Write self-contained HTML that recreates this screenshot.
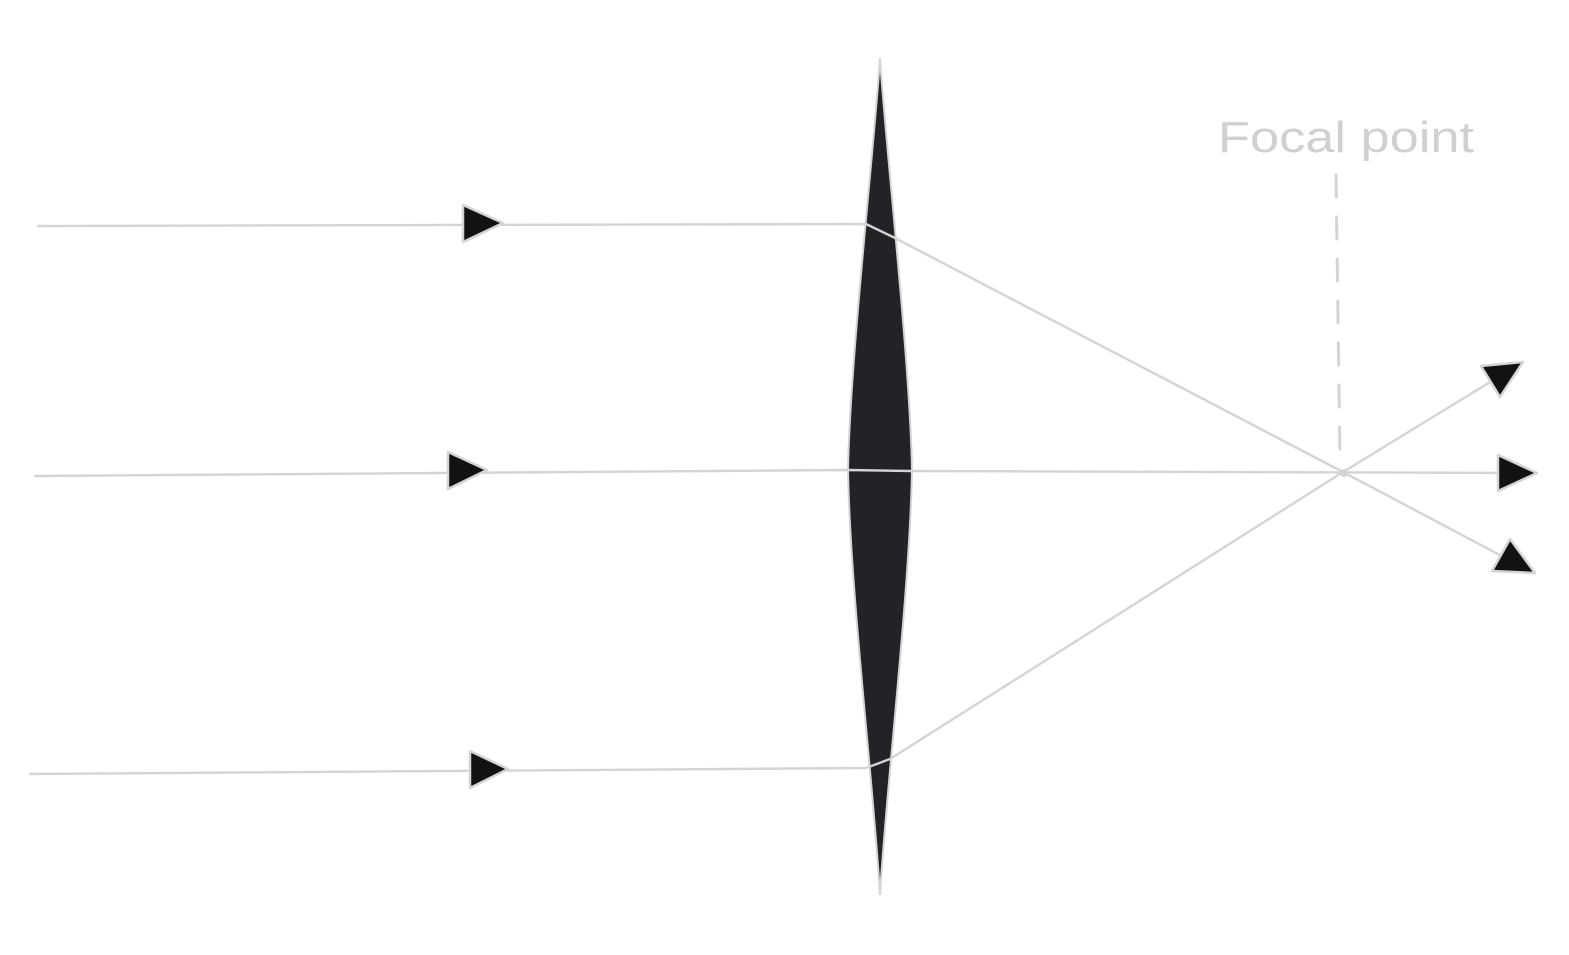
<!DOCTYPE html>
<html><head><meta charset="utf-8"><style>html,body{margin:0;padding:0;background:#fff}svg{display:block}</style></head>
<body>
<svg width="1569" height="955" viewBox="0 0 1569 955" xmlns="http://www.w3.org/2000/svg">
<rect width="1569" height="955" fill="#fff"/>
<path d="M880,58 C874,150 850,360 848,470 C850,590 874,790 880,895 C886,790 910,590 912,470 C910,360 886,150 880,58 Z" fill="#222326" stroke="#d4d4d4" stroke-width="2"/>
<g fill="none" stroke="#d4d4d4" stroke-width="2.4" stroke-linecap="round" stroke-linejoin="round">
<polyline points="38,226 866,224 893,237 1343,472 1513,562"/>
<polyline points="35,476 848,470 912,471 1520,473"/>
<polyline points="30,774 866,768 890,759 1343,472 1500,376"/>
<line x1="1336" y1="175" x2="1340" y2="460" stroke-width="3" stroke-dasharray="22,20"/>
</g>
<circle cx="1344" cy="473" r="4" fill="#d4d4d4"/>
<g fill="#121212" stroke="#d4d4d4" stroke-width="2.5" stroke-linejoin="round">
<polygon points="463,205 503,223 463,242"/>
<polygon points="448,452 487,470 448,489"/>
<polygon points="470,751 508,769 470,788"/>
<polygon points="1481,366 1523,362 1500,397"/>
<polygon points="1498,455 1537,473 1498,491"/>
<polygon points="1510,539 1535,573 1492,571"/>
</g>
<text x="1218" y="152" font-family="Liberation Sans, sans-serif" font-size="44" fill="#d0d0d0" textLength="256" lengthAdjust="spacingAndGlyphs">Focal point</text>
</svg>
</body></html>
